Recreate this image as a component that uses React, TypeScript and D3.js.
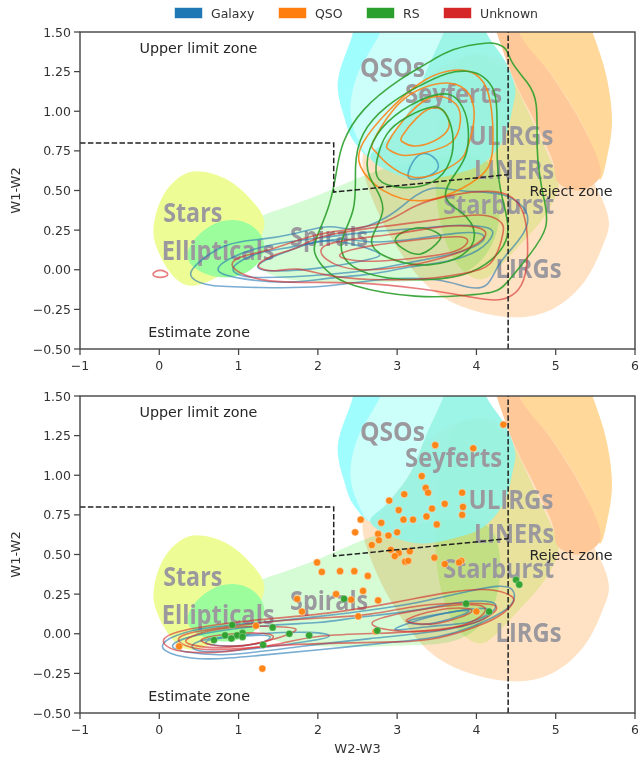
import React from "react";
import * as d3 from "d3";

type Pt = [number, number];

const xTicks = [-1, 0, 1, 2, 3, 4, 5, 6];
const yTicks = [-0.5, -0.25, 0, 0.25, 0.5, 0.75, 1, 1.25, 1.5];
const legendNames = ["Galaxy", "QSO", "RS", "Unknown"];

// background regions
const starsRegion: Pt[] = [[.55,.617],[.917,.554],[1.207,.408],[1.333,.282],[1.144,.093],[.829,-.014],[.412,-.109],[.135,-.014],[-.042,.156],[-.067,.282],[.047,.472],[.299,.598]];
const ellipticalRegion: Pt[] = [[.93,.314],[1.207,.263],[1.333,.125],[1.106,-.02],[.728,-.046],[.45,.011],[.362,.08],[.412,.169],[.639,.276]];
const spiralRegion: Pt[] = [[1.11,.3],[1.65,.4],[2.15,.5],[2.66,.61],[3.29,.69],[3.92,.72],[4.26,.6],[4.26,.22],[3.92,0],[3.54,-.06],[3.25,-.07],[2.78,-.08],[2.15,-.08],[1.65,-.06],[1.29,0],[1.14,.16]];
const starburstRegion: Pt[] = [[3.96,1.36],[4.36,1.26],[4.55,1.1],[4.96,.66],[5.03,.53],[4.87,.34],[4.55,.16],[4.23,-.01],[4.02,-.06],[3.73,.05],[3.54,.31],[3.48,.63],[3.54,1.01],[3.69,1.26]];
const lirgRegion: Pt[] = [[2.57,.76],[3.04,1.07],[4.04,1.39],[4.8,1.07],[5.62,.42],[5.6,.2],[5.39,-.06],[4.96,-.25],[4.46,-.3],[3.92,-.25],[3.5,-.15],[3.2,0],[2.87,.25],[2.66,.5]];
const ulirgRegion: Pt[] = [[4.6,1.7],[5.3,1.7],[5.47,1.49],[5.64,1.22],[5.71,.94],[5.66,.74],[5.56,.57],[5.39,.86],[4.96,1.22],[4.55,1.49]];
const linerBand: Pt[] = [[4.2,1.6],[4.55,1.6],[4.55,1.49],[4.96,1.22],[5.39,.86],[5.56,.59],[5.3,.5],[5.03,.55],[4.96,.69],[4.71,.96],[4.49,1.18],[4.26,1.49]];
const qsoRegion: Pt[] = [[2.44,1.49],[2.25,1.18],[2.34,.95],[2.44,.82],[2.66,.71],[2.7,.9],[2.8,1.3],[2.8,1.65],[2.5,1.65]];
const qsoPaleRegion: Pt[] = [[2.78,1.49],[2.49,1.22],[2.41,1.01],[2.49,.84],[2.66,.71],[2.87,.82],[3.16,1.01],[3.38,1.27],[3.58,1.49],[3.7,1.65],[2.9,1.65]];
const seyfertRegion: Pt[] = [[3.58,1.49],[3.38,1.27],[3.16,1.01],[2.87,.82],[2.66,.71],[2.95,.61],[3.29,.57],[3.7,.6],[4.08,.67],[4.34,.82],[4.46,1.03],[4.49,1.14],[4.38,1.3],[4.13,1.49],[4,1.65],[3.7,1.65]];

// top panel contours
const topGalaxy: Pt[][] = [
  [[.41,-.01],[.51,.05],[.85,.16],[1.27,.19],[1.65,.22],[2.15,.28],[2.44,.25],[2.87,.33],[3.16,.44],[3.45,.52],[3.83,.49],[4.33,.48],[4.64,.36],[4.59,.23],[4.42,.12],[4.26,.02],[4.13,-.1],[3.88,-.11],[3.5,-.06],[2.78,-.06],[2.03,-.11],[1.27,-.11],[.64,-.1],[.42,-.05]],
  [[.73,-.01],[.93,.08],[1.43,.16],[2.03,.2],[2.66,.24],[3.29,.26],[3.7,.28],[4.08,.27],[4.21,.23],[4.02,.12],[3.6,.05],[3.16,.02],[2.66,-.03],[2.15,-.05],[1.68,-.08],[1.11,-.06]],
  [[.93,.02],[1.27,.11],[1.68,.14],[2.28,.2],[2.66,.17],[3.29,.2],[3.73,.23],[4.04,.23],[4.08,.18],[3.79,.11],[3.29,.06],[2.78,.01],[2.15,-.03],[1.27,-.05],[1.02,-.03]],
  [[1.23,.02],[1.43,.08],[1.77,.14],[2.15,.19],[2.76,.11],[2.66,.07],[2.15,.02],[1.48,-.01]],
  [[3.14,.61],[3.29,.74],[3.5,.69],[3.48,.61],[3.2,.57]],
];
const topQso: Pt[][] = [
  [[2.53,.66],[2.57,.8],[2.87,.99],[3.29,1.18],[3.63,1.25],[3.92,1.25],[4.13,1.15],[4.2,.94],[4.2,.76],[4.13,.63],[3.83,.52],[3.33,.43],[2.82,.5]],
  [[2.69,.8],[2.95,1.01],[3.25,1.13],[3.67,1.18],[3.92,1.1],[3.97,.94],[3.88,.77],[3.79,.69],[3.5,.61],[3.2,.58],[2.87,.67],[2.72,.76]],
  [[2.88,.8],[3.16,.99],[3.48,1.1],[3.75,1.04],[3.79,.94],[3.7,.8],[3.33,.74],[3.07,.72],[2.91,.76]],
  [[3.06,.84],[3.25,.96],[3.48,1.03],[3.64,.96],[3.63,.87],[3.41,.8],[3.2,.78],[3.07,.81]],
];
const topRs: Pt[][] = [
  [[4.13,1.43],[3.7,1.39],[3.38,1.3],[3.04,1.2],[2.57,1.01],[2.32,.8],[2.24,.63],[2.15,.41],[1.99,.21],[1.96,.11],[2.11,0],[2.44,-.1],[3.25,-.17],[3.83,-.16],[4.21,-.14],[4.38,-.08],[4.64,.08],[4.89,.27],[4.84,.46],[4.8,.59],[4.76,.77],[4.76,1.05],[4.64,1.18],[4.45,1.3],[4.38,1.39],[4.26,1.42]],
  [[3.88,1.25],[3.63,1.24],[3.25,1.15],[2.87,1.03],[2.57,.86],[2.47,.65],[2.47,.38],[2.28,.17],[2.44,.02],[2.87,-.05],[3.41,-.06],[3.92,-.02],[4.3,.12],[4.4,.27],[4.32,.46],[4.26,.67],[4.26,1.01],[4.2,1.15],[4.04,1.23]],
  [[3.63,1.11],[3.29,1.07],[2.87,.93],[2.66,.76],[2.63,.59],[2.87,.38],[2.63,.17],[3,.06],[3.38,.03],[3.83,.09],[3.98,.23],[3.83,.36],[3.58,.46],[3.77,.63],[3.88,.74],[3.89,.93],[3.79,1.05]],
  [[3.45,1.03],[3.12,.96],[2.87,.86],[2.75,.69],[2.76,.57],[3.04,.52],[3.45,.55],[3.67,.69],[3.7,.86],[3.6,.99]],
  [[2.97,.2],[3.25,.27],[3.5,.23],[3.54,.19],[3.29,.09],[3.07,.14]],
];
const topUnknown: Pt[][] = [
  [[-.09,-.03],[.01,0],[.12,-.03],[.01,-.05]],
  [[.92,.02],[1.02,.08],[1.36,.12],[1.77,.19],[2.15,.24],[2.82,.29],[3.2,.4],[3.7,.47],[4.32,.49],[4.59,.36],[4.64,.11],[4.57,-.1],[4.3,-.19],[3.92,-.17],[3.29,-.12],[2.44,-.08],[1.65,-.08],[1.18,-.05]],
  [[1.23,.02],[1.43,.09],[1.77,.14],[2.03,.21],[2.78,.27],[3.45,.31],[4.04,.35],[4.3,.3],[4.33,.23],[4.21,.06],[3.96,-.01],[3.29,-.06],[2.66,-.06],[2.15,-.04],[1.74,.01],[1.48,-.01]],
  [[2.03,.16],[2.97,.22],[3.5,.27],[4,.27],[4.11,.21],[3.83,.12],[3.29,.04],[2.66,0],[2.24,.03]],
  [[2.24,.09],[2.66,.15],[3.29,.19],[3.79,.21],[3.88,.17],[3.7,.11],[3.29,.08],[2.66,.05]],
];

// bottom panel contours
const bottomGalaxy: Pt[][] = [
  [[.03,-.08],[.22,-.01],[.64,.04],[1.27,.07],[2.03,.11],[2.66,.15],[3.29,.2],[3.83,.26],[4.26,.3],[4.45,.28],[4.46,.2],[4.3,.13],[3.92,.04],[3.5,-.02],[3,-.05],[2.03,-.1],[1.27,-.135],[.64,-.16],[.22,-.135]],
  [[.16,-.08],[.45,-.01],[1.27,.05],[2.03,.07],[2.44,.1],[3.29,.15],[3.79,.2],[4.2,.2],[4.21,.15],[4,.07],[3.41,.01],[2.66,-.03],[1.77,-.08],[.85,-.135],[.39,-.115]],
  [[.41,-.08],[.64,-.03],[1.27,0],[1.9,.01],[2.15,-.015],[1.9,-.045],[1.27,-.09],[.64,-.115]],
  [[2.91,.02],[3.5,.12],[4.04,.16],[4.17,.14],[3.92,.07],[3.41,.05]],
  [[3.12,.08],[3.5,.12],[3.89,.15],[3.83,.12],[3.5,.07],[3.29,.06]],
  [[.55,-.05],[.93,-.02],[1.27,-.01],[1.4,-.02],[1.27,-.06],[.85,-.08]],
];
const bottomUnknown: Pt[][] = [
  [[.05,-.04],[.22,.01],[.64,.05],[1.27,.09],[2.15,.13],[3,.2],[3.63,.26],[4.17,.28],[4.42,.24],[4.47,.21],[4.38,.15],[4.13,.07],[3.5,-.03],[3,-.05],[2.15,-.06],[1.27,-.08],[.85,-.115],[.35,-.115],[.14,-.09]],
  [[.24,-.04],[.43,.01],[1.06,.055],[1.48,.08],[2.03,.1],[2.66,.12],[3.29,.18],[3.83,.19],[4.27,.18],[4.08,.09],[3.7,.04],[3,.005],[2.03,-.01],[1.48,-.07],[1.06,-.09],[.51,-.1]],
  [[.36,-.03],[.85,.04],[1.65,.04],[1.67,.01],[1.4,-.04],[.85,-.09],[.43,-.07]],
  [[.54,-.03],[.93,0],[1.4,0],[1.36,-.05],[.85,-.08],[.6,-.06]],
  [[2.66,.07],[3.07,.13],[3.7,.18],[4,.18],[4.12,.15],[3.92,.07],[3.5,.02],[2.95,.02]],
  [[3.12,.09],[3.5,.15],[3.89,.16],[3.92,.13],[3.7,.09],[3.45,.06],[3.2,.07]],
];

const qsoPoints: Pt[] = [[4.34,1.32],[3.48,1.19],[3.96,1.17],[3.31,.995],[3.36,.92],[3.39,.89],[3.82,.89],[3.09,.88],[2.9,.84],[3.6,.82],[3.83,.8],[3.44,.79],[3.02,.78],[3.82,.75],[3.37,.74],[3.08,.72],[3.2,.72],[2.54,.72],[2.8,.7],[3.5,.69],[2.47,.64],[3,.64],[2.76,.63],[2.89,.62],[2.77,.59],[2.68,.56],[2.92,.53],[3.16,.52],[3.02,.51],[2.97,.49],[3.47,.48],[3.1,.455],[3.14,.46],[3.6,.44],[3.81,.46],[3.78,.45],[2.05,.39],[2.28,.395],[2.46,.395],[2.63,.365],[2.23,.25],[2.57,.27],[2.42,.215],[2.76,.21],[2.51,.11],[4,.14],[1.99,.45],[1.74,.22],[1.8,.14],[1.22,.05],[.25,-.08],[1.3,-.22],[2.73,.015]];
const rsPoints: Pt[] = [[.92,.055],[1.43,.04],[1.05,.005],[.98,-.01],[.83,-.01],[1.05,-.02],[.91,-.03],[.69,-.04],[1.64,0],[1.89,-.01],[1.31,-.07],[2.33,.22],[2.75,.02],[3.87,.19],[4.16,.14],[4.5,.34],[4.54,.31]];

const limitPath: Pt[] = [[-1,.8],[2.2,.8],[2.2,.49],[4.4,.6]];
const rejectLine: Pt[] = [[4.4,-.5],[4.4,1.5]];

const regionLabels: { text: string; at: Pt; width: number }[] = [
  { text: "QSOs", at: [2.53, 1.215], width: 65 },
  { text: "Seyferts", at: [3.1, 1.055], width: 97 },
  { text: "ULIRGs", at: [3.9, .79], width: 85 },
  { text: "LINERs", at: [3.97, .575], width: 80 },
  { text: "Starburst", at: [3.58, .35], width: 111 },
  { text: "LIRGs", at: [4.24, -.05], width: 66 },
  { text: "Spirals", at: [1.65, .15], width: 78 },
  { text: "Stars", at: [.05, .3], width: 59 },
  { text: "Ellipticals", at: [.03, .06], width: 113 },
];
const zoneLabels: { text: string; at: Pt }[] = [
  { text: "Upper limit zone", at: [-.25, 1.37] },
  { text: "Estimate zone", at: [-.14, -.425] },
  { text: "Reject zone", at: [4.67, .468] },
];

const BLUE = "#1f77b4", ORANGE = "#ff7f0e", GREEN = "#2ca02c", RED = "#d62728";
const legendColors = [BLUE, ORANGE, GREEN, RED];
const legendX = [175, 279, 367, 444];
const FONT = "'DejaVu Sans', sans-serif";
const INK = "#333333";

const L = 80, R = 635;
const closed = d3.line().curve(d3.curveCatmullRomClosed.alpha(0.5));
const smooth = d3.line().curve(d3.curveBasisClosed);
const open = d3.line();

// Offsets each vertex so a closed B-spline runs through the read points instead of inside them.
const tighten = (pts: Pt[]): Pt[] => pts.map((p, i) => {
  const a = pts[(i - 1 + pts.length) % pts.length];
  const b = pts[(i + 1) % pts.length];
  return [p[0] + (2 * p[0] - a[0] - b[0]) / 6, p[1] + (2 * p[1] - a[1] - b[1]) / 6];
});

function Panel({ top, bottom, id, contours, xLabel, points }: {
  top: number; bottom: number; id: string;
  contours: { lines: Pt[][]; color: string; alpha: number }[];
  xLabel?: string; points?: boolean;
}) {
  const x = d3.scaleLinear().domain([-1, 6]).range([L, R]);
  const y = d3.scaleLinear().domain([-0.5, 1.5]).range([bottom, top]);
  const toPx = (pts: Pt[]): Pt[] => pts.map(([a, b]) => [x(a), y(b)]);
  const blob = (pts: Pt[]) => closed(toPx(pts)) as string;
  const round = (pts: Pt[]) => smooth(tighten(toPx(pts))) as string;
  const mult: React.CSSProperties = { mixBlendMode: "multiply" };
  return (
    <g>
      <clipPath id={id}><rect x={L} y={top} width={R - L} height={bottom - top} /></clipPath>
      <g clipPath={`url(#${id})`} style={{ isolation: "isolate" }}>
        <path d={round(lirgRegion)} fill="#ffe2c4" style={mult} />
        <path d={round(spiralRegion)} fill="#d6fcd6" style={mult} />
        <path d={round(starburstRegion)} fill="#e8ffcb" style={mult} />
        <path d={blob(ulirgRegion)} fill="#ffd89a" />
        <path d={blob(linerBand)} fill="#ffc898" />
        <path d={round(starsRegion)} fill="#eefc96" />
        <path d={round(ellipticalRegion)} fill="#9cfd9c" />
        <path d={blob(qsoRegion)} fill="#9ffdfd" />
        <path d={blob(qsoPaleRegion)} fill="#ccfefa" />
        <path d={blob(seyfertRegion)} fill="#92f4e6" fillOpacity={0.9} />
        {regionLabels.map((l) => (
          <text key={l.text} x={x(l.at[0])} y={y(l.at[1])} fontFamily="'Open Sans', sans-serif" fontWeight={700}
            fontSize={27} fill="#9b999e" textLength={l.width} lengthAdjust="spacingAndGlyphs">{l.text}</text>
        ))}
        {contours.map((c, i) => c.lines.map((ln, j) => (
          <path key={`${i}-${j}`} d={round(ln)} fill="none" stroke={c.color} strokeOpacity={c.alpha} strokeWidth={1.6} />
        )))}
        {points && qsoPoints.map((p, i) => (
          <circle key={`q${i}`} cx={x(p[0])} cy={y(p[1])} r={3.6} fill={ORANGE} fillOpacity={0.95} stroke="#fff" strokeWidth={0.4} />
        ))}
        {points && rsPoints.map((p, i) => (
          <circle key={`r${i}`} cx={x(p[0])} cy={y(p[1])} r={3.6} fill={GREEN} fillOpacity={0.95} stroke="#fff" strokeWidth={0.3} />
        ))}
        <path d={open(toPx(limitPath)) as string} fill="none" stroke="#222" strokeWidth={1.5} strokeDasharray="5.5,2.4" />
        <path d={open(toPx(rejectLine)) as string} fill="none" stroke="#222" strokeWidth={1.5} strokeDasharray="5.5,2.4" />
      </g>
      {zoneLabels.map((l) => (
        <text key={l.text} x={x(l.at[0])} y={y(l.at[1])} fontFamily={FONT} fontSize={14.3} fill="#262626">{l.text}</text>
      ))}
      <rect x={L} y={top} width={R - L} height={bottom - top} fill="none" stroke="#444" strokeWidth={1.4} />
      {xTicks.map((t) => (
        <g key={t} transform={`translate(${x(t)},${bottom})`}>
          <line y2={6} stroke="#444" strokeWidth={1.25} />
          <text y={21} textAnchor="middle" fontFamily={FONT} fontSize={12.5} fill={INK}>{String(t).replace("-", "\u2212")}</text>
        </g>
      ))}
      {yTicks.map((t) => (
        <g key={t} transform={`translate(${L},${y(t)})`}>
          <line x2={-6} stroke="#444" strokeWidth={1.25} />
          <text x={-9} y={4.5} textAnchor="end" fontFamily={FONT} fontSize={12.5} fill={INK}>{d3.format(".2f")(t).replace("-", "\u2212")}</text>
        </g>
      ))}
      <text transform={`translate(20,${(top + bottom) / 2}) rotate(-90)`} textAnchor="middle" fontFamily={FONT} fontSize={13} fill={INK}>W1-W2</text>
      {xLabel && <text x={(L + R) / 2} y={bottom + 40} textAnchor="middle" fontFamily={FONT} fontSize={13} fill={INK}>{xLabel}</text>}
    </g>
  );
}

export default function App() {
  return (
    <svg width={638} height={758} viewBox="0 0 638 758" style={{ position: "fixed", left: 0, top: 0, background: "#fff" }}>
      {legendNames.map((n, i) => (
        <g key={n}>
          <rect x={legendX[i]} y={8} width={27} height={10} fill={legendColors[i]} stroke={legendColors[i]} strokeOpacity={0.45} />
          <text x={legendX[i] + 36} y={18} fontFamily={FONT} fontSize={12.5} fill={INK}>{n}</text>
        </g>
      ))}
      <Panel top={32} bottom={349} id="clipTop"
        contours={[{ lines: topGalaxy, color: BLUE, alpha: 0.6 }, { lines: topQso, color: ORANGE, alpha: 0.85 }, { lines: topRs, color: GREEN, alpha: 0.9 }, { lines: topUnknown, color: RED, alpha: 0.6 }]} />
      <Panel top={396} bottom={713} id="clipBottom" xLabel="W2-W3" points
        contours={[{ lines: bottomGalaxy, color: BLUE, alpha: 0.6 }, { lines: bottomUnknown, color: RED, alpha: 0.6 }]} />
    </svg>
  );
}
